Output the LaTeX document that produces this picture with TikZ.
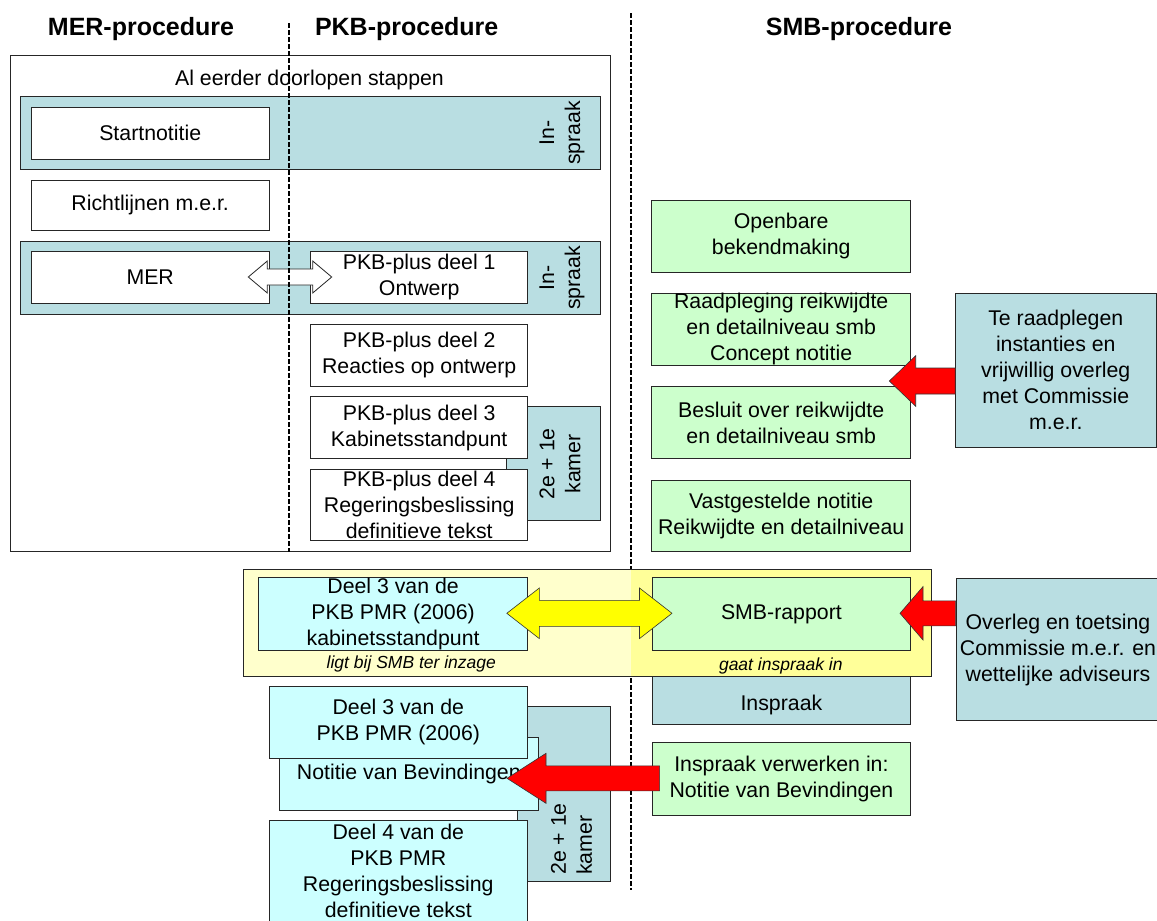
\documentclass[tikz,border=0pt]{standalone}
\usepackage{fontspec}
\setmainfont{Liberation Sans}
\usetikzlibrary{calc}

\definecolor{bandteal}{RGB}{185,222,226}
\definecolor{smbgreen}{RGB}{204,255,204}
\definecolor{pkbcyan}{RGB}{204,255,255}
\definecolor{paleyellow}{RGB}{255,255,204}
\definecolor{softyellow}{RGB}{255,255,153}
\definecolor{arrowyellow}{RGB}{255,255,0}
\definecolor{arrowred}{RGB}{255,0,0}

\newcommand\boxtext{\fontsize{21.3}{26}\selectfont}
\newcommand\headtext{\fontsize{25}{30}\selectfont\bfseries}
\newcommand\notetext{\fontsize{17.5}{21}\selectfont\itshape}

\newcommand\leftblock[6]{%
    \filldraw[#1] let \p1=(#2), \p2=(#3) in
        (\x1,\y2+#4) -- (\x2+#6,\y2+#4) -- (\x2+#6,\y2+#5) -- (\x2,\y2)
        -- (\x2+#6,\y2-#5) -- (\x2+#6,\y2-#4) -- (\x1,\y2-#4) -- cycle;}

\newcommand\doubleblock[6]{%
    \filldraw[#1] let \p1=(#2), \p2=(#3) in
        (\x1,\y1) -- (\x1+#6,\y1+#5) -- (\x1+#6,\y1+#4) -- (\x2-#6,\y1+#4)
        -- (\x2-#6,\y1+#5) -- (\x2,\y1) -- (\x2-#6,\y1-#5) -- (\x2-#6,\y1-#4)
        -- (\x1+#6,\y1-#4) -- (\x1+#6,\y1-#5) -- cycle;}

\begin{document}
\begin{tikzpicture}[
                x=1pt, y=-1pt,
                boxbase/.style={draw=black!85, line width=0.8pt, inner sep=0pt, align=center, font=\boxtext},
                plain/.style={inner sep=0pt, align=center, font=\boxtext},
                whitebox/.style={boxbase, fill=white},
                greenbox/.style={boxbase, fill=smbgreen},
                cyanbox/.style={boxbase, fill=pkbcyan},
                tealbox/.style={boxbase, fill=bandteal},
                band/.style={draw=black!85, line width=0.8pt, fill=bandteal},
                procline/.style={line width=1.4pt, dash pattern=on 4.5pt off 2.5pt},
                redarrow/.style={fill=arrowred, draw=black!80, line width=0.6pt},
                yellowarrow/.style={fill=arrowyellow, draw=black!80, line width=0.6pt},
                openarrow/.style={fill=white, draw=black!85, line width=0.8pt}
            ]

            \useasboundingbox (0,0) rectangle (1157,921);

            \node[font=\headtext, anchor=base] (merhead) at (141,35) {MER-procedure};
            \node[font=\headtext, anchor=base] (pkbhead) at (406.7,35) {PKB-procedure};
            \node[font=\headtext, anchor=base] (smbhead) at (859,35) {SMB-procedure};

            \draw[procline] (631,13) -- (631,890);

            \node[boxbase, minimum width=600pt, minimum height=496pt] (eerder) at (310.7,303.7) {};
            \node[plain, anchor=base] (eerdertitel) at (309.5,85) {Al eerder doorlopen stappen};

            \filldraw[band] (20.7,96.7) rectangle (600,169);
            \filldraw[band] (20.7,241.7) rectangle (600,314);
            \foreach \y/\n in {133/inspraakeen, 278/inspraaktwee}
                \node[plain, rotate=90] (\n) at (562,\y) {In-\\spraak};

            \node[whitebox, minimum width=238.3pt, minimum height=51.7pt] (startnotitie) at (150.2,133.2) {Startnotitie};
            \node[whitebox, minimum width=238.3pt, minimum height=50.7pt] (richtlijnen) at (150.2,205.3) {Richtlijnen m.e.r.};
            \node[whitebox, minimum width=238.3pt, minimum height=51.3pt] (mer) at (150.2,277.3) {MER};
            \node[whitebox, minimum width=217pt, minimum height=51.3pt] (pkbeen) at (419.2,277.3) {PKB-plus deel 1\\Ontwerp};
            \node[whitebox, minimum width=217pt, minimum height=62pt] (pkbtwee) at (419.2,355) {PKB-plus deel 2\\Reacties op ontwerp};

            \node[tealbox, minimum width=93.3pt, minimum height=114pt] (kamereen) at (553.3,463.7) {};
            \node[plain, rotate=90] (kamereentxt) at (560,464) {2e + 1e\\kamer};
            \node[whitebox, minimum width=217pt, minimum height=62pt] (pkbdrie) at (419.2,427.7) {PKB-plus deel 3\\Kabinetsstandpunt};
            \node[whitebox, minimum width=217pt, minimum height=71.7pt] (pkbvier) at (419.2,504.9) {PKB-plus deel 4\\Regeringsbeslissing\\definitieve tekst};

            \coordinate (merpijl) at (248.3,277);
            \coordinate (pkbpijl) at (331.7,277);
            \doubleblock{openarrow}{merpijl}{pkbpijl}{8pt}{16pt}{19pt}

            \draw[procline] (289,23) -- (289,551.7);

            \node[greenbox, minimum width=259pt, minimum height=72.7pt] (openbare) at (781.2,236.3) {Openbare\\bekendmaking};
            \node[greenbox, minimum width=259pt, minimum height=72.7pt] (raadpleging) at (781.2,329.3) {Raadpleging reikwijdte\\en detailniveau smb\\Concept notitie};
            \node[greenbox, minimum width=259pt, minimum height=72pt] (besluit) at (781.2,422.7) {Besluit over reikwijdte\\en detailniveau smb};
            \node[greenbox, minimum width=259pt, minimum height=71.7pt] (vastgesteld) at (781.2,515.8) {Vastgestelde notitie\\Reikwijdte en detailniveau};
            \node[tealbox, minimum width=200.3pt, minimum height=154.7pt] (teraadplegen) at (1055.8,370.3) {Te raadplegen\\instanties en\\vrijwillig overleg\\met Commissie\\m.e.r.};

            \coordinate (besluitpijl) at (889.3,381);
            \leftblock{redarrow}{teraadplegen.west}{besluitpijl}{13pt}{25.3pt}{26.4pt}

            \node[tealbox, minimum width=258.8pt, minimum height=84.3pt] (inspraak) at (781.4,682.2) {};

            \fill[paleyellow] (243.3,569.3) rectangle (631,676.7);
            \fill[softyellow] (631,569.3) rectangle (931.3,676.7);
            \draw[black!85, line width=0.8pt] (243.3,569.3) rectangle (931.3,676.7);

            \node[plain] (inspraaktxt) at (781.4,705) {Inspraak};
            \node[cyanbox, minimum width=269.2pt, minimum height=72.7pt] (deeldrie) at (393.1,613.7) {Deel 3 van de\\PKB PMR (2006)\\kabinetsstandpunt};
            \node[greenbox, minimum width=258.8pt, minimum height=72.5pt] (smbrapport) at (781.4,613.8) {SMB-rapport};
            \node[plain, font=\notetext, anchor=base] (inzage) at (411.3,668) {ligt bij SMB ter inzage};
            \node[plain, font=\notetext, anchor=base] (inspraakin) at (780.8,670) {gaat inspraak in};

            \coordinate (deelpijl) at (506.8,613.3);
            \coordinate (smbpijl) at (672,613.3);
            \doubleblock{yellowarrow}{deelpijl}{smbpijl}{13pt}{25.3pt}{32.5pt}

            \node[tealbox, minimum width=204pt, minimum height=142.4pt] (overleg) at (1058,649.5) {Overleg en toetsing\\Commissie m.e.r. en\\wettelijke adviseurs};
            \coordinate (rapportpijl) at (900,613.3);
            \leftblock{redarrow}{overleg.west}{rapportpijl}{12.5pt}{26.7pt}{23pt}

            \node[tealbox, minimum width=93.4pt, minimum height=175pt] (kamertwee) at (564,794.2) {};
            \node[plain, rotate=90, anchor=west, align=left] (kamertweetxt) at (571.5,875) {2e + 1e\\kamer};
            \node[cyanbox, minimum width=259pt, minimum height=72.3pt] (notitie) at (408.8,773.8) {Notitie van Bevindingen};
            \node[cyanbox, minimum width=258.7pt, minimum height=72.3pt] (deeldrietwee) at (398.3,722.2) {Deel 3 van de\\PKB PMR (2006)};
            \node[cyanbox, minimum width=258.7pt, minimum height=106.3pt] (deelvier) at (398.3,873.9) {};
            \node[plain] (deelviertxt) at (398.3,870.7) {Deel 4 van de\\PKB PMR\\Regeringsbeslissing\\definitieve tekst};

            \node[greenbox, minimum width=258.8pt, minimum height=72.3pt] (verwerken) at (781.4,778.8) {Inspraak verwerken in:\\Notitie van Bevindingen};
            \coordinate (notitiepijl) at (507,778.3);
            \leftblock{redarrow}{$(verwerken.west)+(8,0)$}{notitiepijl}{12.5pt}{25pt}{39pt}
        \end{tikzpicture}
\end{document}
